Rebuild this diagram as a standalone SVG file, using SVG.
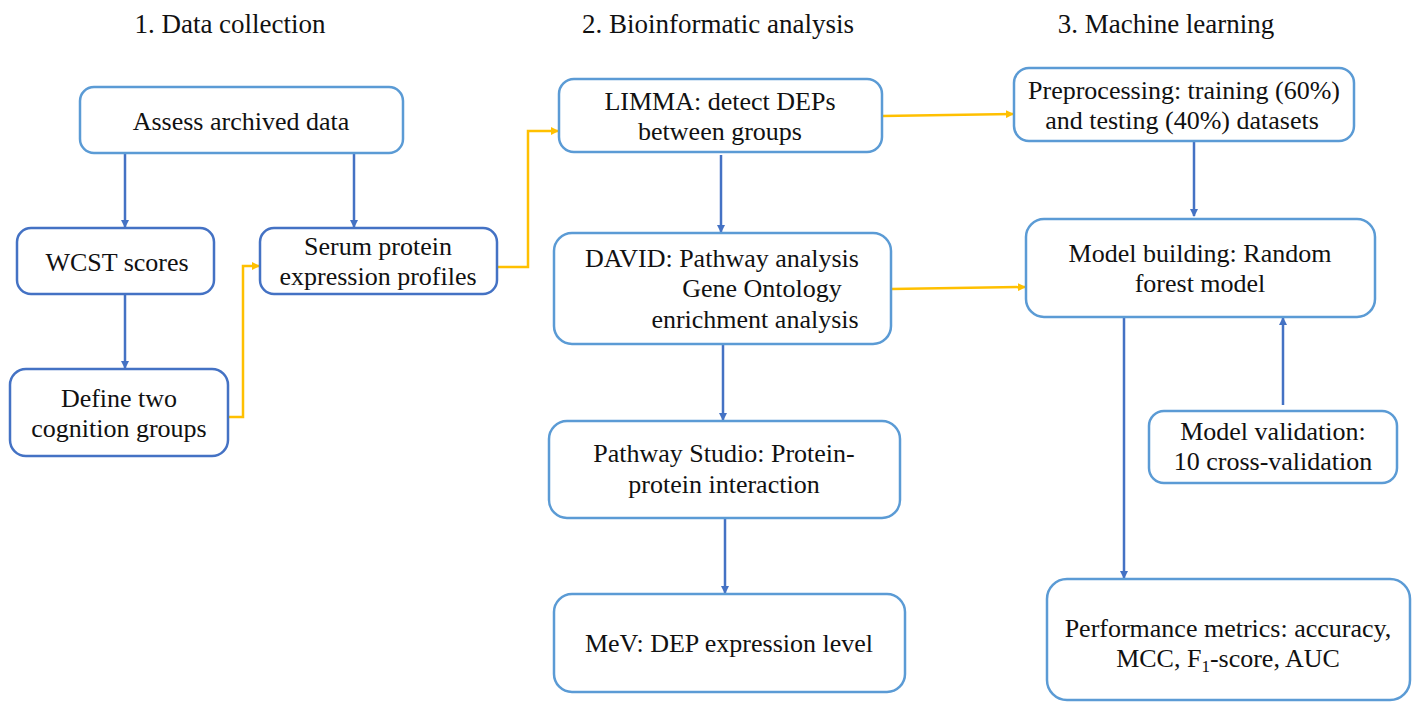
<svg xmlns="http://www.w3.org/2000/svg" width="1412" height="702" viewBox="0 0 1412 702">
<defs>
<style>
.box{fill:#fff;stroke:#5b9bd5;stroke-width:2.5}
.dk{stroke:#4472c4}
.b{fill:none;stroke:#4472c4;stroke-width:2.5}
.o{fill:none;stroke:#ffc000;stroke-width:2.5}
text{fill:#111;text-anchor:middle}
</style>
<marker id="ab" markerWidth="8" markerHeight="8" refX="7" refY="4" orient="auto" markerUnits="userSpaceOnUse"><path d="M0,0 L8,4 L0,8 z" fill="#4472c4"/></marker>
<marker id="ao" markerWidth="8" markerHeight="8" refX="7" refY="4" orient="auto" markerUnits="userSpaceOnUse"><path d="M0,0 L8,4 L0,8 z" fill="#ffc000"/></marker>
</defs>
<rect width="1412" height="702" fill="#fff"/>
<g id="titles">
<text x="230" y="33" font-size="27" style="font-family:'Liberation Serif',serif !important">1. Data collection</text>
<text x="718" y="33" font-size="27" style="font-family:'Liberation Serif',serif !important">2. Bioinformatic analysis</text>
<text x="1166" y="33" font-size="27" style="font-family:'Liberation Serif',serif !important">3. Machine learning</text>
</g>
<g id="connectors">
<path class="b" d="M125,153 V227" marker-end="url(#ab)"/>
<path class="b" d="M354,153 V227" marker-end="url(#ab)"/>
<path class="b" d="M125,294 V368" marker-end="url(#ab)"/>
<path class="o" d="M228,417 H243 V266 H259" marker-end="url(#ao)"/>
<path class="o" d="M497,267 H528 V131 H558" marker-end="url(#ao)"/>
<path class="b" d="M721,155 V232" marker-end="url(#ab)"/>
<path class="o" d="M882,116 L1013,114" marker-end="url(#ao)"/>
<path class="o" d="M891,289 L1025,287" marker-end="url(#ao)"/>
<path class="b" d="M723,344 V420" marker-end="url(#ab)"/>
<path class="b" d="M725,518 V593" marker-end="url(#ab)"/>
<path class="b" d="M1194,141 V216" marker-end="url(#ab)"/>
<path class="b" d="M1283,405 V318" marker-end="url(#ab)"/>
<path class="b" d="M1124,317 V578" marker-end="url(#ab)"/>
</g>
<g id="n-assess"><rect class="box" x="80" y="87" width="323" height="66" rx="14"/><text x="241" y="130" font-size="26" style="font-family:'Liberation Serif',serif !important">Assess archived data</text></g>
<g id="n-wcst"><rect class="box dk" x="17" y="228" width="197" height="66" rx="14"/><text x="117" y="271" font-size="26" style="font-family:'Liberation Serif',serif !important">WCST scores</text></g>
<g id="n-serum"><rect class="box dk" x="260" y="228" width="237" height="66" rx="14"/><text x="378" y="255" font-size="26" style="font-family:'Liberation Serif',serif !important">Serum protein</text><text x="378" y="285" font-size="26" style="font-family:'Liberation Serif',serif !important">expression profiles</text></g>
<g id="n-define"><rect class="box dk" x="10" y="369" width="218" height="87" rx="16"/><text x="119" y="407" font-size="26" style="font-family:'Liberation Serif',serif !important">Define two</text><text x="119" y="437" font-size="26" style="font-family:'Liberation Serif',serif !important">cognition groups</text></g>
<g id="n-limma"><rect class="box" x="559" y="79" width="323" height="73" rx="15"/><text x="720" y="110" font-size="26" style="font-family:'Liberation Serif',serif !important">LIMMA: detect DEPs</text><text x="720" y="140" font-size="26" style="font-family:'Liberation Serif',serif !important">between groups</text></g>
<g id="n-david"><rect class="box" x="554" y="233" width="337" height="111" rx="18"/><text x="722" y="267" font-size="26" style="font-family:'Liberation Serif',serif !important">DAVID: Pathway analysis</text><text x="762" y="297" font-size="26" style="font-family:'Liberation Serif',serif !important">Gene Ontology</text><text x="755" y="328" font-size="26" style="font-family:'Liberation Serif',serif !important">enrichment analysis</text></g>
<g id="n-pathway"><rect class="box" x="549" y="421" width="351" height="97" rx="18"/><text x="724" y="462" font-size="26" style="font-family:'Liberation Serif',serif !important">Pathway Studio: Protein-</text><text x="724" y="493" font-size="26" style="font-family:'Liberation Serif',serif !important">protein interaction</text></g>
<g id="n-mev"><rect class="box" x="554" y="594" width="351" height="98" rx="18"/><text x="729" y="652" font-size="26" style="font-family:'Liberation Serif',serif !important">MeV: DEP expression level</text></g>
<g id="n-preproc"><rect class="box" x="1014" y="68" width="340" height="73" rx="15"/><text x="1184" y="99" font-size="26" style="font-family:'Liberation Serif',serif !important">Preprocessing: training (60%)</text><text x="1182" y="129" font-size="26" style="font-family:'Liberation Serif',serif !important">and testing (40%) datasets</text></g>
<g id="n-model"><rect class="box" x="1026" y="219" width="349" height="98" rx="18"/><text x="1200" y="262" font-size="26" style="font-family:'Liberation Serif',serif !important">Model building: Random</text><text x="1200" y="292" font-size="26" style="font-family:'Liberation Serif',serif !important">forest model</text></g>
<g id="n-valid"><rect class="box" x="1149" y="411" width="248" height="72" rx="15"/><text x="1273" y="440" font-size="26" style="font-family:'Liberation Serif',serif !important">Model validation:</text><text x="1273" y="470" font-size="26" style="font-family:'Liberation Serif',serif !important">10 cross-validation</text></g>
<g id="n-perf"><rect class="box" x="1047" y="579" width="363" height="121" rx="20"/><text x="1228" y="637" font-size="26" style="font-family:'Liberation Serif',serif !important">Performance metrics: accuracy,</text><text x="1228" y="667" font-size="26" style="font-family:'Liberation Serif',serif !important">MCC, F<tspan font-size="17" dy="5">1</tspan><tspan dy="-5">-score, AUC</tspan></text></g>
</svg>
